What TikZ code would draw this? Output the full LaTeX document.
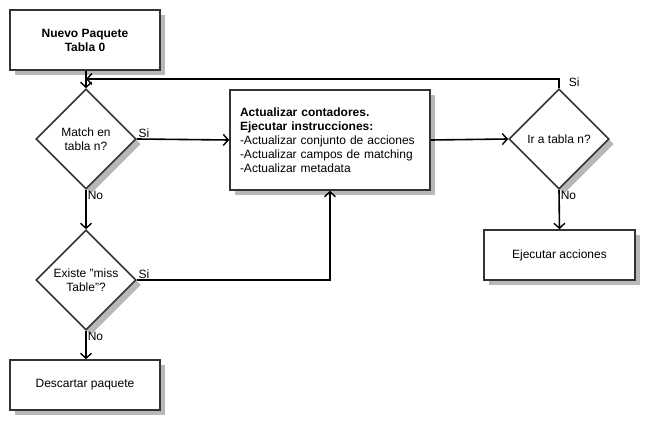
\documentclass[tikz,border=0pt]{standalone}
\usepackage{fontspec}
\setmainfont{Liberation Sans}
\usetikzlibrary{shapes.geometric,shadows,arrows.meta}

\tikzset{
  sombra/.style={drop shadow={shadow xshift=5pt, shadow yshift=-5pt, fill=black!28, opacity=1}},
  caja/.style={draw=black!80, line width=1.6pt, fill=white, sombra, inner sep=2pt},
  rombo/.style={diamond, draw=black!80, line width=1.6pt, fill=white, sombra, align=center,
    minimum width=100pt, minimum height=100pt, inner sep=1pt},
  flecha/.style={-{Straight Barb[length=5pt,width=11pt,line width=1.4pt]}, line width=1.6pt},
  etiq/.style={inner sep=1pt}
}

\begin{document}
\begin{tikzpicture}[x=1pt, y=-1pt, font=\fontsize{12}{14}\selectfont]
  \useasboundingbox (0,0) rectangle (667,430);

  % cajas
  \node[caja, minimum width=150pt, minimum height=60pt, align=center, font=\fontsize{12}{14}\selectfont\bfseries]
    (nuevo) at (85,40) {Nuevo Paquete\\Tabla 0};
  \node[rombo] (match) at (86,139) {Match en\\tabla n?};
  \node[caja, minimum width=200pt, minimum height=100pt, text width=180pt, align=left]
    (acc) at (330,140) {\textbf{Actualizar contadores.}\\\textbf{Ejecutar instrucciones:}\\-Actualizar conjunto de acciones\\-Actualizar campos de matching\\-Actualizar metadata};
  \node[rombo] (ir) at (559,139) {Ir a tabla n?};
  \node[caja, minimum width=151pt, minimum height=50pt] (ejec) at (559.5,255) {Ejecutar acciones};
  \node[rombo] (miss) at (86,280) {Existe "miss\\Table"?};
  \node[caja, minimum width=150pt, minimum height=50pt] (desc) at (85,385) {Descartar paquete};

  \coordinate (union) at (86,79);

  % conectores
  \draw[flecha] (nuevo.south -| match.north) -- (match.north);
  \draw[flecha] (ir.north) |- (union) node [etiq, above right, xshift=8pt, pos=0] {Si};
  \draw[flecha] (match.east) -- (acc.west) node [etiq, above right, pos=0] {Si};
  \draw[flecha] (match.south) -- (miss.north) node [etiq, below right, pos=0] {No};
  \draw[flecha] (acc.east) -- (ir.west);
  \draw[flecha] (ir.south) -- (ejec.north) node [etiq, below right, pos=0] {No};
  \draw[flecha] (miss.east) -| (acc.south) node [etiq, above right, pos=0] {Si};
  \draw[flecha] (miss.south) -- (desc.north -| miss.south) node [etiq, below right, pos=0] {No};
\end{tikzpicture}
\end{document}
